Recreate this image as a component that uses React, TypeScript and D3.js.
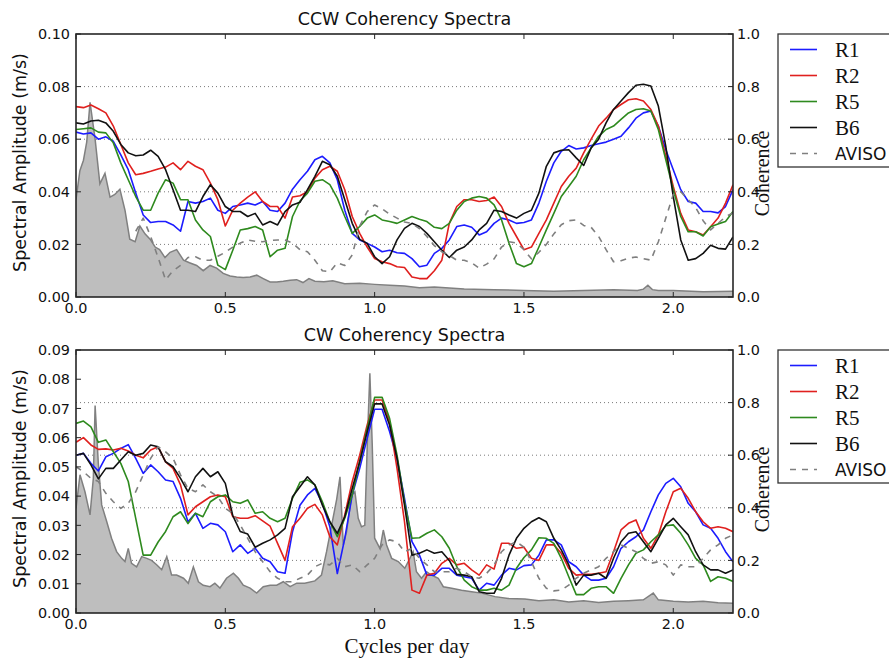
import React from 'react';
import * as d3 from 'd3';

// Frequency axis (cycles per day) shared by the coherence curves
const freq = d3.range(0, 2.2 + 1e-9, 0.025).map((v) => +v.toFixed(3));

// ---------- CCW panel: coherence ----------
const ccwR1 = [
  0.627, 0.62, 0.624, 0.6, 0.609, 0.592, 0.54, 0.484, 0.395, 0.312,
  0.283, 0.287, 0.287, 0.274, 0.25, 0.363, 0.357, 0.363, 0.376, 0.33,
  0.318, 0.344, 0.35, 0.357, 0.35, 0.363, 0.33, 0.325, 0.357, 0.41,
  0.446, 0.478, 0.522, 0.535, 0.51, 0.446, 0.33, 0.242, 0.217, 0.204,
  0.19, 0.172, 0.178, 0.168, 0.166, 0.146, 0.115, 0.121, 0.166, 0.185,
  0.217, 0.268, 0.274, 0.265, 0.236, 0.248, 0.28, 0.3, 0.293, 0.28,
  0.283, 0.293, 0.357, 0.44, 0.51, 0.554, 0.576, 0.563, 0.567, 0.576,
  0.583, 0.589, 0.6, 0.611, 0.643, 0.68, 0.7, 0.707, 0.65, 0.56,
  0.484, 0.408, 0.363, 0.357, 0.325, 0.325, 0.32, 0.344, 0.408,
];
const ccwR2 = [
  0.724, 0.72, 0.73, 0.716, 0.7, 0.65, 0.58, 0.51, 0.465, 0.47,
  0.478, 0.487, 0.494, 0.51, 0.484, 0.516, 0.497, 0.484, 0.433, 0.37,
  0.27, 0.33, 0.357, 0.38, 0.4, 0.363, 0.344, 0.344, 0.3, 0.38,
  0.385, 0.4, 0.452, 0.484, 0.497, 0.478, 0.408, 0.306, 0.242, 0.19,
  0.146, 0.134, 0.127, 0.115, 0.112, 0.076, 0.07, 0.07, 0.1, 0.14,
  0.28, 0.344, 0.37, 0.37, 0.363, 0.367, 0.38, 0.344, 0.28, 0.23,
  0.18, 0.19, 0.242, 0.293, 0.357, 0.42, 0.459, 0.49, 0.548, 0.6,
  0.65, 0.68, 0.713, 0.732, 0.75, 0.754, 0.745, 0.713, 0.65, 0.535,
  0.42, 0.318, 0.255, 0.248, 0.236, 0.267, 0.3, 0.357, 0.427,
];
const ccwR5 = [
  0.637, 0.64, 0.643, 0.627, 0.624, 0.586, 0.51, 0.446, 0.382, 0.33,
  0.33, 0.395, 0.446, 0.433, 0.37, 0.37, 0.293, 0.255, 0.23, 0.121,
  0.104, 0.178, 0.255, 0.26, 0.268, 0.255, 0.153, 0.178, 0.185, 0.306,
  0.365, 0.395, 0.44, 0.446, 0.427, 0.376, 0.306, 0.242, 0.268, 0.3,
  0.312, 0.293, 0.287, 0.28, 0.293, 0.306, 0.296, 0.287, 0.265, 0.26,
  0.28, 0.33, 0.363, 0.376, 0.382, 0.376, 0.35, 0.293, 0.204, 0.127,
  0.115, 0.127, 0.19, 0.255, 0.318, 0.382, 0.42, 0.459, 0.522, 0.567,
  0.611, 0.637, 0.65, 0.675, 0.7, 0.713, 0.716, 0.707, 0.637, 0.522,
  0.408, 0.306, 0.248, 0.248, 0.232, 0.267, 0.278, 0.287, 0.325,
];
const ccwB6 = [
  0.662, 0.658, 0.669, 0.672, 0.662, 0.63, 0.58, 0.548, 0.537, 0.54,
  0.558, 0.535, 0.484, 0.408, 0.33, 0.33, 0.325, 0.382, 0.427, 0.395,
  0.344, 0.325, 0.325, 0.306, 0.318, 0.274, 0.287, 0.274, 0.325, 0.35,
  0.36, 0.408, 0.459, 0.516, 0.503, 0.459, 0.37, 0.28, 0.219, 0.204,
  0.153, 0.127, 0.153, 0.217, 0.261, 0.28, 0.268, 0.242, 0.21, 0.178,
  0.15, 0.178, 0.19, 0.217, 0.255, 0.28, 0.33, 0.325, 0.312, 0.3,
  0.318, 0.33, 0.395, 0.497, 0.548, 0.558, 0.56, 0.529, 0.5, 0.567,
  0.6, 0.662, 0.713, 0.745, 0.777, 0.805, 0.809, 0.802, 0.726, 0.573,
  0.382, 0.217, 0.14, 0.146, 0.166, 0.197, 0.185, 0.182, 0.228,
];
const ccwAviso = [
  null, null, null, null, null, null, null, null, 0.25, 0.3,
  0.23, 0.15, 0.065, 0.1, 0.12, 0.15, 0.153, 0.14, 0.14, 0.155,
  0.17, 0.19, 0.205, 0.217, 0.212, 0.21, 0.215, 0.217, 0.217, 0.205,
  0.18, 0.172, 0.14, 0.1, 0.096, 0.13, 0.12, 0.16, 0.27, 0.325,
  0.35, 0.335, 0.315, 0.3, 0.285, 0.28, 0.26, 0.23, 0.195, 0.172,
  0.158, 0.14, 0.14, 0.13, 0.11, 0.125, 0.145, 0.19, 0.21, 0.205,
  0.18, 0.145, 0.17, 0.2, 0.24, 0.275, 0.29, 0.293, 0.272, 0.265,
  0.23, 0.18, 0.134, 0.138, 0.148, 0.152, 0.146, 0.14, 0.21, 0.3,
  0.39, 0.4, 0.37, 0.34, 0.29, 0.255, 0.28, 0.305, 0.32,
];
// CCW spectral amplitude (m/s)
const ccwAmpFreq = [
  0, 0.013, 0.025, 0.036, 0.047, 0.064, 0.08, 0.097, 0.114, 0.13,
  0.147, 0.164, 0.18, 0.198, 0.214, 0.231, 0.248, 0.265, 0.28, 0.298,
  0.315, 0.337, 0.36, 0.38, 0.404, 0.426, 0.449, 0.471, 0.493, 0.516,
  0.538, 0.56, 0.583, 0.605, 0.627, 0.65, 0.672, 0.694, 0.717, 0.739,
  0.76, 0.78, 0.8, 0.83, 0.86, 0.9, 0.95, 1.0, 1.05, 1.1,
  1.15, 1.2, 1.3, 1.4, 1.5, 1.6, 1.7, 1.8, 1.88, 1.9,
  1.915, 1.93, 1.95, 2.0, 2.1, 2.2,
];
const ccwAmp = [
  0.037, 0.048, 0.052, 0.059, 0.074, 0.06, 0.043, 0.047, 0.038, 0.039,
  0.041, 0.033, 0.022, 0.021, 0.027, 0.024, 0.022, 0.019, 0.018, 0.015,
  0.017, 0.018, 0.014, 0.013, 0.012, 0.01, 0.012, 0.011, 0.009, 0.008,
  0.0076, 0.0074, 0.0076, 0.0083, 0.007, 0.0057, 0.0057, 0.006, 0.0064, 0.0066,
  0.0055, 0.007, 0.006, 0.0058, 0.0062, 0.005, 0.0052, 0.0048, 0.0045, 0.0042,
  0.0035, 0.0038, 0.003, 0.0028, 0.0025, 0.0022, 0.0025, 0.0028, 0.0025, 0.003,
  0.0045, 0.0028, 0.0025, 0.0025, 0.002, 0.0022,
];

// ---------- CW panel: coherence ----------
const cwR1 = [
  0.6, 0.607, 0.569, 0.54, 0.594, 0.607, 0.626, 0.64, 0.588, 0.531,
  0.563, 0.537, 0.506, 0.5, 0.436, 0.347, 0.379, 0.322, 0.341, 0.335,
  0.309, 0.233, 0.259, 0.227, 0.246, 0.208, 0.195, 0.157, 0.151, 0.309,
  0.41, 0.449, 0.474, 0.417, 0.328, 0.15, 0.284, 0.449, 0.55, 0.664,
  0.775, 0.775, 0.69, 0.588, 0.436, 0.271, 0.22, 0.144, 0.144, 0.17,
  0.17, 0.144, 0.138, 0.132, 0.087, 0.113, 0.106, 0.144, 0.17, 0.164,
  0.18, 0.183, 0.22, 0.278, 0.278, 0.259, 0.195, 0.176, 0.144, 0.125,
  0.125, 0.132, 0.176, 0.246, 0.271, 0.29, 0.316, 0.385, 0.449, 0.493,
  0.512, 0.48, 0.417, 0.385, 0.335, 0.322, 0.284, 0.233, 0.195,
];
const cwR2 = [
  0.649, 0.667, 0.639, 0.622, 0.624, 0.62, 0.626, 0.616, 0.6, 0.59,
  0.62, 0.632, 0.575, 0.55, 0.487, 0.373, 0.404, 0.423, 0.442, 0.449,
  0.442, 0.366, 0.36, 0.36, 0.37, 0.35, 0.33, 0.265, 0.2, 0.328,
  0.36, 0.398, 0.413, 0.373, 0.29, 0.259, 0.373, 0.5, 0.6, 0.715,
  0.81, 0.81, 0.727, 0.55, 0.347, 0.087, 0.075, 0.144, 0.151, 0.189,
  0.208, 0.183, 0.189, 0.164, 0.144, 0.183, 0.167, 0.265, 0.265, 0.246,
  0.25, 0.208, 0.2, 0.259, 0.259, 0.227, 0.17, 0.144, 0.147, 0.147,
  0.151, 0.157, 0.233, 0.316, 0.341, 0.354, 0.284, 0.246, 0.297, 0.385,
  0.461, 0.474, 0.436, 0.385, 0.347, 0.322, 0.328, 0.322, 0.309,
];
const cwR5 = [
  0.721, 0.73, 0.708, 0.649, 0.658, 0.613, 0.569, 0.5, 0.36, 0.22,
  0.22, 0.27, 0.31, 0.366, 0.385, 0.34, 0.379, 0.366, 0.423, 0.442,
  0.449, 0.423, 0.417, 0.43, 0.379, 0.385, 0.36, 0.347, 0.36, 0.436,
  0.497, 0.506, 0.487, 0.423, 0.347, 0.29, 0.36, 0.449, 0.575, 0.702,
  0.82, 0.82, 0.74, 0.6, 0.423, 0.284, 0.286, 0.303, 0.316, 0.29,
  0.246, 0.176, 0.125, 0.1, 0.087, 0.087, 0.094, 0.087, 0.106, 0.17,
  0.211, 0.24, 0.286, 0.284, 0.265, 0.208, 0.138, 0.07, 0.07, 0.094,
  0.1, 0.1, 0.075, 0.132, 0.183, 0.227, 0.24, 0.271, 0.297, 0.332,
  0.335, 0.303, 0.259, 0.208, 0.183, 0.12, 0.138, 0.132, 0.12,
];
const cwB6 = [
  0.6, 0.607, 0.563, 0.51, 0.55, 0.55, 0.582, 0.613, 0.6, 0.607,
  0.639, 0.632, 0.575, 0.556, 0.512, 0.461, 0.518, 0.55, 0.518, 0.537,
  0.493, 0.37, 0.31, 0.3, 0.25, 0.265, 0.278, 0.297, 0.322, 0.442,
  0.48, 0.518, 0.487, 0.41, 0.347, 0.303, 0.366, 0.474, 0.575, 0.689,
  0.795, 0.795, 0.715, 0.588, 0.41, 0.22, 0.227, 0.24, 0.227, 0.233,
  0.2, 0.147, 0.144, 0.138, 0.081, 0.075, 0.075, 0.132, 0.22, 0.284,
  0.322, 0.347, 0.362, 0.347, 0.284, 0.24, 0.183, 0.106, 0.144, 0.144,
  0.151, 0.132, 0.208, 0.271, 0.303, 0.309, 0.271, 0.233, 0.284, 0.335,
  0.36, 0.328, 0.297, 0.233, 0.183, 0.164, 0.164, 0.151, 0.164,
];
const cwAviso = [
  0.556, 0.537, 0.512, 0.5, 0.455, 0.423, 0.398, 0.417, 0.461, 0.525,
  0.588, 0.632, 0.613, 0.588, 0.525, 0.474, 0.461, 0.487, 0.461, 0.442,
  0.398, 0.379, 0.335, 0.284, 0.233, 0.195, 0.157, 0.132, 0.119, 0.119,
  0.132, 0.144, 0.176, 0.189, 0.183, 0.208, 0.176, 0.183, 0.157, 0.183,
  0.208, 0.259, 0.278, 0.271, 0.233, 0.246, 0.208, 0.183, 0.157, 0.157,
  0.157, 0.17, 0.157, 0.138, 0.132, 0.151, 0.183, 0.233, 0.259, 0.271,
  0.25, 0.195, 0.132, 0.094, 0.084, 0.087, 0.106, 0.132, 0.151, 0.164,
  0.176, 0.208, 0.233, 0.259, 0.246, 0.233, 0.208, 0.189, 0.195, 0.183,
  0.144, 0.183, 0.176, 0.176, 0.208, 0.24, 0.259, 0.284, 0.297,
];
// CW spectral amplitude (m/s)
const cwAmpFreq = [
  0, 0.0134, 0.03, 0.047, 0.058, 0.064, 0.075, 0.086, 0.103, 0.119,
  0.136, 0.153, 0.164, 0.175, 0.186, 0.203, 0.22, 0.237, 0.253, 0.27,
  0.287, 0.304, 0.32, 0.337, 0.36, 0.376, 0.393, 0.41, 0.426, 0.449,
  0.465, 0.482, 0.504, 0.527, 0.544, 0.56, 0.583, 0.605, 0.627, 0.65,
  0.672, 0.694, 0.717, 0.739, 0.766, 0.8, 0.822, 0.839, 0.856, 0.873,
  0.884, 0.895, 0.906, 0.923, 0.934, 0.945, 0.956, 0.967, 0.976, 0.984,
  0.992, 1.0, 1.018, 1.029, 1.04, 1.057, 1.079, 1.101, 1.118, 1.129,
  1.14, 1.157, 1.174, 1.19, 1.213, 1.23, 1.258, 1.291, 1.325, 1.358,
  1.403, 1.447, 1.503, 1.55, 1.6, 1.65, 1.7, 1.75, 1.8, 1.85,
  1.9, 1.933, 1.95, 2.0, 2.05, 2.1, 2.15, 2.2,
];
const cwAmp = [
  0.0358, 0.0473, 0.0415, 0.0336, 0.046, 0.071, 0.0507, 0.037, 0.0312, 0.0256,
  0.021, 0.0187, 0.0176, 0.0221, 0.017, 0.0158, 0.0193, 0.0187, 0.018, 0.0165,
  0.0148, 0.0193, 0.013, 0.013, 0.0119, 0.0102, 0.0158, 0.0107, 0.0095, 0.009,
  0.0102, 0.0085, 0.0119, 0.0136, 0.0119, 0.0095, 0.0085, 0.0068, 0.009, 0.0095,
  0.0095, 0.0107, 0.009, 0.0102, 0.0102, 0.011, 0.013, 0.021, 0.03, 0.039,
  0.0466, 0.0233, 0.0278, 0.0404, 0.0415, 0.0324, 0.0295, 0.03, 0.0598, 0.082,
  0.0575, 0.0256, 0.022, 0.0284, 0.0233, 0.0187, 0.0176, 0.0153, 0.0187, 0.021,
  0.0141, 0.0119, 0.0141, 0.013, 0.0119, 0.009, 0.0085, 0.0078, 0.0073, 0.0068,
  0.0056, 0.005, 0.0048, 0.0042, 0.0045, 0.0038, 0.0042, 0.0036, 0.004, 0.0042,
  0.0045, 0.0068, 0.0045, 0.004, 0.0038, 0.004, 0.0035, 0.0033,
];

// ---------- labels / ticks ----------
const seriesNames = ['R1', 'R2', 'R5', 'B6', 'AVISO'];
const seriesColors = ['#1c1cff', '#e0201e', '#2e8a1e', '#111111', '#7f7f7f'];
const xTicks = [0, 0.5, 1.0, 1.5, 2.0];
const cohTicks = [0, 0.2, 0.4, 0.6, 0.8, 1.0];
const gridTicks = [0.2, 0.4, 0.6, 0.8];
const ccwAmpTicks = [0, 0.02, 0.04, 0.06, 0.08, 0.1];
const cwAmpTicks = [0, 0.01, 0.02, 0.03, 0.04, 0.05, 0.06, 0.07, 0.08, 0.09];

const SANS = 'DejaVu Sans, Verdana, sans-serif';
const SERIF = '"Liberation Serif", "Times New Roman", serif';

const LEFT = 76;
const RIGHT = 733;
const PH = 263;

type PanelProps = {
  top: number;
  title: string;
  ampMax: number;
  ampTicks: number[];
  ampDigits: number;
  series: (number | null)[][];
  ampFreq: number[];
  amp: number[];
  id: string;
};

function Panel({ top, title, ampMax, ampTicks, ampDigits, series, ampFreq, amp, id }: PanelProps) {
  const bottom = top + PH;
  const x = d3.scaleLinear().domain([0, 2.2]).range([LEFT, RIGHT]);
  const yC = d3.scaleLinear().domain([0, 1]).range([bottom, top]);
  const yA = d3.scaleLinear().domain([0, ampMax]).range([bottom, top]);

  const idx = d3.range(ampFreq.length);
  const area = d3
    .area<number>()
    .x((i) => x(ampFreq[i]))
    .y0(bottom)
    .y1((i) => yA(amp[i]));
  const ampLine = d3
    .line<number>()
    .x((i) => x(ampFreq[i]))
    .y((i) => yA(amp[i]));

  const fIdx = d3.range(freq.length);
  const mkLine = (vals: (number | null)[]) =>
    d3
      .line<number>()
      .defined((i) => vals[i] != null)
      .x((i) => x(freq[i]))
      .y((i) => yC(vals[i] as number))(fIdx) || '';

  const cy = (top + bottom) / 2;
  const legTop = top;

  return (
    <g>
      <defs>
        <clipPath id={id}>
          <rect x={LEFT} y={top} width={RIGHT - LEFT} height={PH} />
        </clipPath>
      </defs>
      <text x={(LEFT + RIGHT) / 2} y={top - 9} textAnchor="middle" fontFamily={SANS} fontSize={17.5} fill="#111">
        {title}
      </text>
      {gridTicks.map((t) => (
        <line key={t} x1={LEFT} x2={RIGHT} y1={yC(t)} y2={yC(t)} stroke="#7a7a7a" strokeWidth={1} strokeDasharray="1,3" />
      ))}
      <g clipPath={`url(#${id})`}>
        <path d={area(idx) || ''} fill="#bebebe" stroke="none" />
        <path d={ampLine(idx) || ''} fill="none" stroke="#808080" strokeWidth={1.5} />
        {series.map((vals, k) => (
          <path
            key={k}
            d={mkLine(vals)}
            fill="none"
            stroke={seriesColors[k]}
            strokeWidth={1.6}
            strokeDasharray={k === 4 ? '6,6' : undefined}
            strokeLinejoin="round"
          />
        ))}
      </g>
      <rect x={LEFT} y={top} width={RIGHT - LEFT} height={PH} fill="none" stroke="#262626" strokeWidth={1.6} />
      {xTicks.map((t) => (
        <g key={t}>
          <line x1={x(t)} x2={x(t)} y1={bottom} y2={bottom - 5} stroke="#262626" strokeWidth={1} />
          <line x1={x(t)} x2={x(t)} y1={top} y2={top + 5} stroke="#262626" strokeWidth={1} />
          <text x={x(t)} y={bottom + 16} textAnchor="middle" fontFamily={SANS} fontSize={14.4} fill="#111">
            {t.toFixed(1)}
          </text>
        </g>
      ))}
      {ampTicks.map((t) => (
        <g key={t}>
          <line x1={LEFT} x2={LEFT + 5} y1={yA(t)} y2={yA(t)} stroke="#262626" strokeWidth={1} />
          <text x={LEFT - 6} y={yA(t)} dy="0.36em" textAnchor="end" fontFamily={SANS} fontSize={14.4} fill="#111">
            {t.toFixed(ampDigits)}
          </text>
        </g>
      ))}
      {cohTicks.map((t) => (
        <g key={t}>
          <line x1={RIGHT} x2={RIGHT - 5} y1={yC(t)} y2={yC(t)} stroke="#262626" strokeWidth={1} />
          <text x={RIGHT + 4} y={yC(t)} dy="0.36em" textAnchor="start" fontFamily={SANS} fontSize={14.4} fill="#111">
            {t.toFixed(1)}
          </text>
        </g>
      ))}
      <text
        transform={`translate(26, ${cy - 3}) rotate(-90)`}
        textAnchor="middle"
        fontFamily={SANS}
        fontSize={17.5}
        fill="#111"
      >
        Spectral Amplitude (m/s)
      </text>
      <rect x={778} y={legTop} width={130} height={133} fill="#fff" stroke="#333" strokeWidth={1.3} />
      <text
        transform={`translate(769, ${cy + 8}) rotate(-90)`}
        textAnchor="middle"
        fontFamily={SERIF}
        fontSize={20}
        fill="#111"
      >
        Coherence
      </text>
      {seriesNames.map((nm, k) => {
        const ly = legTop + 15.5 + 26 * k;
        return (
          <g key={nm}>
            <line
              x1={790}
              x2={817}
              y1={ly}
              y2={ly}
              stroke={seriesColors[k]}
              strokeWidth={1.6}
              strokeDasharray={k === 4 ? '6,6' : undefined}
            />
            <text
              x={835}
              y={ly + (k === 4 ? 6.3 : 7)}
              fontFamily={k === 4 ? SANS : SERIF}
              fontSize={k === 4 ? 17 : 21}
              fill="#111"
            >
              {nm}
            </text>
          </g>
        );
      })}
    </g>
  );
}

export default function App() {
  return (
    <svg
      width={889}
      height={664}
      style={{ position: 'absolute', left: 0, top: 0, background: '#fff' }}
    >
      <rect x={0} y={0} width={889} height={664} fill="#fff" />
      <Panel
        id="clipTop"
        top={34}
        title="CCW Coherency Spectra"
        ampMax={0.1}
        ampTicks={ccwAmpTicks}
        ampDigits={2}
        series={[ccwR1, ccwR2, ccwR5, ccwB6, ccwAviso]}
        ampFreq={ccwAmpFreq}
        amp={ccwAmp}
      />
      <Panel
        id="clipBottom"
        top={350}
        title="CW Coherency Spectra"
        ampMax={0.09}
        ampTicks={cwAmpTicks}
        ampDigits={2}
        series={[cwR1, cwR2, cwR5, cwB6, cwAviso]}
        ampFreq={cwAmpFreq}
        amp={cwAmp}
      />
      <text x={407} y={653} textAnchor="middle" fontFamily={SERIF} fontSize={21} fill="#111">
        Cycles per day
      </text>
    </svg>
  );
}
